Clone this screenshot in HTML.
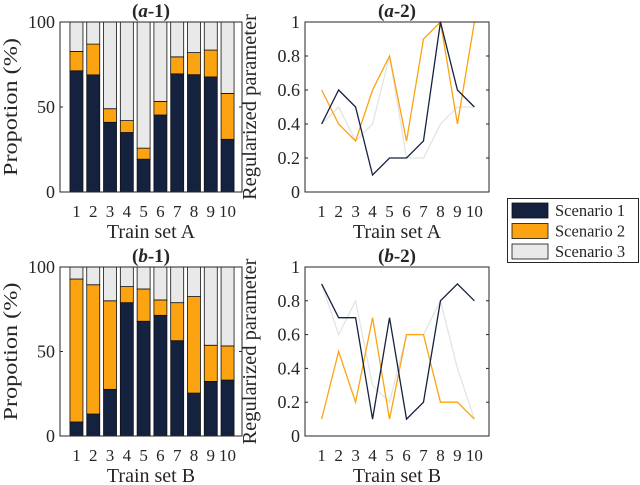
<!DOCTYPE html>
<html><head><meta charset="utf-8"><style>
body{margin:0;background:#fff}
svg{display:block;font-family:"Liberation Serif",serif}
text{fill:#262626}
</style></head><body>
<svg id="c" width="640" height="485"></svg>
<script>
const categories=[1,2,3,4,5,6,7,8,9,10];
const a1Dark=[71.3,68.9,41,35,19.3,45.3,69.5,69,67.7,31];
const a1Orange=[11.4,18.1,8,7,6.5,8,10,13,15.8,27];
const b1Dark=[8.3,13,27.6,78.9,67.9,71.4,56.4,25.4,32.3,33.1];
const b1Orange=[84.6,76.5,52.4,9.5,19.1,9.1,22.5,57.1,21.4,20.2];
const a2S1=[.4,.6,.5,.1,.2,.2,.3,1,.6,.5];
const a2S2=[.6,.4,.3,.6,.8,.3,.9,1,.4,1];
const a2S3=[.4,.5,.3,.4,.8,.2,.2,.4,.5,.5];
const b2S1=[.9,.7,.7,.1,.7,.1,.2,.8,.9,.8];
const b2S2=[.1,.5,.2,.7,.1,.6,.6,.2,.2,.1];
const b2S3=[.9,.6,.8,.3,.2,.6,.6,.8,.4,.1];
const barTicks=[0,50,100];
const lineTicks=[0,0.2,0.4,0.6,0.8,1];
const lineTickLabels=["0","0.2","0.4","0.6","0.8","1"];
const legendLabels=["Scenario 1","Scenario 2","Scenario 3"];
const C=["#15223f","#fca312","#e9e9e9"];
const LC=["#15223f","#fca312","#e4e4e4"];
const svg=document.getElementById('c');
const NS='http://www.w3.org/2000/svg';
function el(t,a,p){const e=document.createElementNS(NS,t);for(const k in a)e.setAttribute(k,a[k]);(p||svg).appendChild(e);return e;}
function txt(s,a,p){const e=el('text',a,p);e.textContent=s;return e;}
function panel(name,L,R,T,B,x0,x1,ymax,ticks,tlabels,title,xlab,ylab,ylx,ylen){
  const g=el('g',{});
  
  
  const xs=v=>L+(v-x0)/(x1-x0)*(R-L);
  const ys=v=>B-v/ymax*(B-T);
  ticks.forEach((t,i)=>{
    el('line',{x1:L,x2:L+3,y1:ys(t),y2:ys(t),stroke:'#262626'},g);
    el('line',{x1:R,x2:R-3,y1:ys(t),y2:ys(t),stroke:'#262626'},g);
    const tl=txt(tlabels[i],{x:L-5,y:ys(t)+6,'text-anchor':'end','font-size':18},g);
    
    
  });
  categories.forEach(c=>{
    const tl=txt(String(c),{x:xs(c),y:B+25,'text-anchor':'middle','font-size':17},g);
    
    
  });
  const t=txt('',{x:(L+R)/2,y:T-5,'text-anchor':'middle','font-size':19,'font-weight':'bold'},g);
  t.innerHTML='(<tspan font-style="italic">'+title[0]+'</tspan>-'+title[1]+')';
  
  
  const xl=txt(xlab,{x:(L+R)/2,y:B+46,'text-anchor':'middle','font-size':20},g);
  
  
  const yl=txt(ylab,{x:0,y:0,'text-anchor':'middle','font-size':20,textLength:ylen,lengthAdjust:'spacingAndGlyphs',transform:`translate(${ylx},${(T+B)/2}) rotate(-90)`},g);
  
  
  return {g,xs,ys,box:()=>el('rect',{x:L,y:T,width:R-L,height:B-T,fill:'none',stroke:'#262626','stroke-width':1},g)};
}
function bars(name,T,B,dark,orange,title,xlab){
  const p=panel(name,60,242,T,B,0.02,10.86,100,barTicks,barTicks.map(String),title,xlab,'Propotion (%)',17,138);
  categories.forEach((c,i)=>{
    const cx=p.xs(c),w=13;
    const vals=[dark[i],orange[i],100-dark[i]-orange[i]];let base=0;
    vals.forEach((v,k)=>{
      const r=el('rect',{x:cx-w/2,y:p.ys(base+v),width:w,height:p.ys(base)-p.ys(base+v),fill:C[k],stroke:'#111','stroke-width':0.8},p.g);
      
      
      base+=v;
    });
  });
  p.box();
}
function lines(name,T,B,series,title,xlab){
  const p=panel(name,305,489,T,B,0.02,10.86,1,lineTicks,lineTickLabels,title,xlab,'Regularized parameter',256,186);
  [2,1,0].forEach(k=>{
    const pts=series[k].map((v,i)=>p.xs(categories[i])+','+p.ys(v)).join(' ');
    const l=el('polyline',{points:pts,fill:'none',stroke:LC[k],'stroke-width':1.3},p.g);
    
    
  });
  p.box();
}
bars('panel-a1',22,192,a1Dark,a1Orange,['a','1'],'Train set A');
bars('panel-b1',267,436,b1Dark,b1Orange,['b','1'],'Train set B');
lines('panel-a2',22,192,[a2S1,a2S2,a2S3],['a','2'],'Train set A');
lines('panel-b2',267,436,[b2S1,b2S2,b2S3],['b','2'],'Train set B');
const lg=el('g',{});


el('rect',{x:507.5,y:198.5,width:131,height:64,fill:'#fff',stroke:'#262626'},lg);
legendLabels.forEach((s,i)=>{
  const y=203+i*20.5;
  const r=el('rect',{x:512,y:y,width:36,height:15,fill:C[i],stroke:'#111','stroke-width':0.8},lg);
  
  
  const t=txt(s,{x:555,y:y+13,'font-size':16.5},lg);
  
  
});
</script>
</body></html>
